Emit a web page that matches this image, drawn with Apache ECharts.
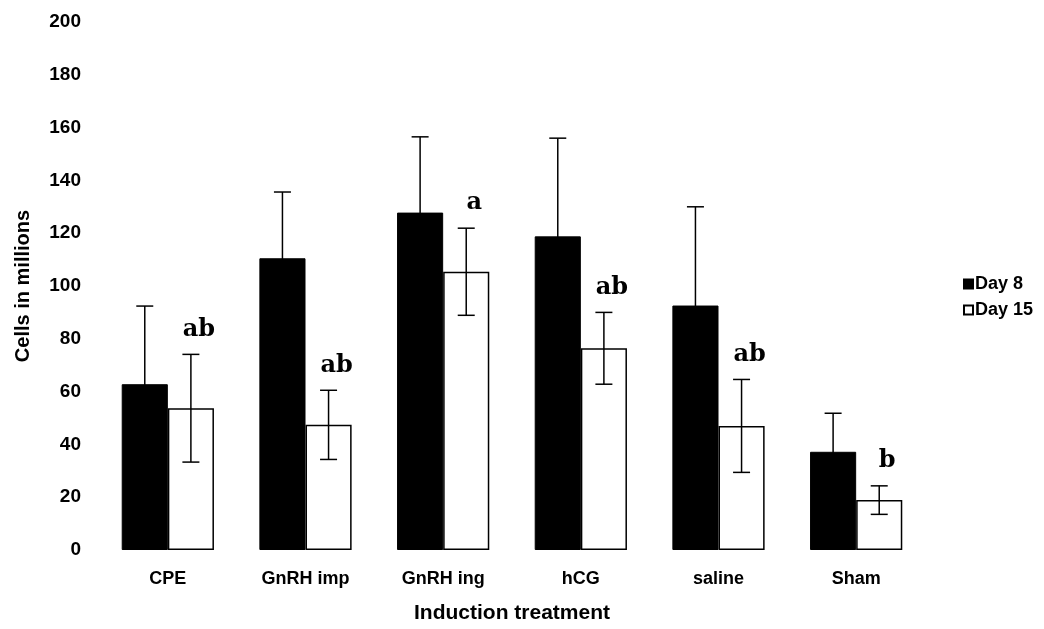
<!DOCTYPE html>
<html>
<head>
<meta charset="utf-8">
<script src="https://cdn.jsdelivr.net/npm/echarts@6/dist/echarts.min.js"></script>
<style>
html,body{margin:0;padding:0;background:#fff;}
#chart{width:1044px;height:629px;}
</style>
</head>
<body>
<div id="chart"></div>
<script>
var categories = ['CPE', 'GnRH imp', 'GnRH ing', 'hCG', 'saline', 'Sham'];
var day8 = [62.8, 110.5, 127.8, 118.8, 92.6, 37.2];
var day8Err = [29.6, 25.1, 28.7, 37.2, 37.4, 14.6];
var day15 = [53.7, 47.4, 105.4, 76.4, 47.0, 18.9];
var day15Err = [20.4, 13.1, 16.5, 13.6, 17.6, 5.4];
var letters = ['ab', 'ab', 'a', 'ab', 'ab', 'b'];
var yTicks = [0, 20, 40, 60, 80, 100, 120, 140, 160, 180, 200];

var BAR_FRAC = 0.335;
var FONT = '"Liberation Sans", Arial, sans-serif';

function errData(vals, errs) {
  return vals.map(function (v, i) { return [i, v, errs[i], letters[i]]; });
}

function makeRender(side, withLetters) {
  return function (params, api) {
    var idx = api.value(0);
    var mean = api.value(1);
    var err = api.value(2);
    var band = api.size([1, 0])[0];
    var off = side * band * BAR_FRAC / 2;
    var top = api.coord([idx, mean + err]);
    var bot = api.coord([idx, mean - err]);
    var x = top[0] + off;
    var cap = 8.5;
    var style = { stroke: '#000', lineWidth: 1.5 };
    var children = [
      { type: 'line', shape: { x1: x, y1: top[1], x2: x, y2: bot[1] }, style: style },
      { type: 'line', shape: { x1: x - cap, y1: top[1], x2: x + cap, y2: top[1] }, style: style },
      { type: 'line', shape: { x1: x - cap, y1: bot[1], x2: x + cap, y2: bot[1] }, style: style }
    ];
    if (withLetters) {
      children.push({
        type: 'text',
        style: {
          x: x + 8, y: top[1] - 13,
          text: letters[idx],
          fill: '#000',
          font: 'bold 24px "DejaVu Serif", "Liberation Serif", serif',
          align: 'center', verticalAlign: 'bottom'
        }
      });
    }
    return { type: 'group', children: children };
  };
}

var chart = echarts.init(document.getElementById('chart'));
chart.setOption({
  animation: false,
  backgroundColor: '#fff',
  grid: { left: 99, right: 119, top: 22, bottom: 78 },
  legend: {
    orient: 'vertical',
    left: 958, top: 270,
    itemWidth: 9, itemHeight: 9, itemGap: 8,
    icon: 'rect',
    data: ['Day 8', 'Day 15'],
    textStyle: { fontFamily: FONT, fontWeight: 'bold', fontSize: 18, color: '#000', padding: [0, 0, 0, -3] }
  },
  xAxis: {
    type: 'category',
    data: categories,
    axisLine: { show: false },
    axisTick: { show: false },
    axisLabel: { margin: 20, fontFamily: FONT, fontWeight: 'bold', fontSize: 18, color: '#000' },
    name: 'Induction treatment',
    nameLocation: 'middle',
    nameGap: 53,
    nameTextStyle: { fontFamily: FONT, fontWeight: 'bold', fontSize: 21, color: '#000' }
  },
  yAxis: {
    type: 'value',
    min: yTicks[0], max: yTicks[yTicks.length - 1], interval: 20,
    axisLine: { show: false },
    axisTick: { show: false },
    splitLine: { show: false },
    axisLabel: { margin: 18, fontFamily: FONT, fontWeight: 'bold', fontSize: 19, color: '#000' },
    name: 'Cells in millions',
    nameLocation: 'middle',
    nameGap: 66,
    nameTextStyle: { fontFamily: FONT, fontWeight: 'bold', fontSize: 20, color: '#000' }
  },
  series: [
    {
      name: 'Day 8', type: 'bar', data: day8,
      barWidth: (BAR_FRAC * 100) + '%', barGap: '0%',
      itemStyle: { color: '#000', borderColor: '#000', borderWidth: 1 }
    },
    {
      name: 'Day 15', type: 'bar', data: day15,
      barWidth: (BAR_FRAC * 100) + '%', barGap: '0%',
      itemStyle: { color: '#fff', borderColor: '#000', borderWidth: 1.5 }
    },
    {
      name: 'err8', type: 'custom', data: errData(day8, day8Err),
      renderItem: makeRender(-1, false), z: 5
    },
    {
      name: 'err15', type: 'custom', data: errData(day15, day15Err),
      renderItem: makeRender(1, true), z: 5
    }
  ]
});
</script>
</body>
</html>
